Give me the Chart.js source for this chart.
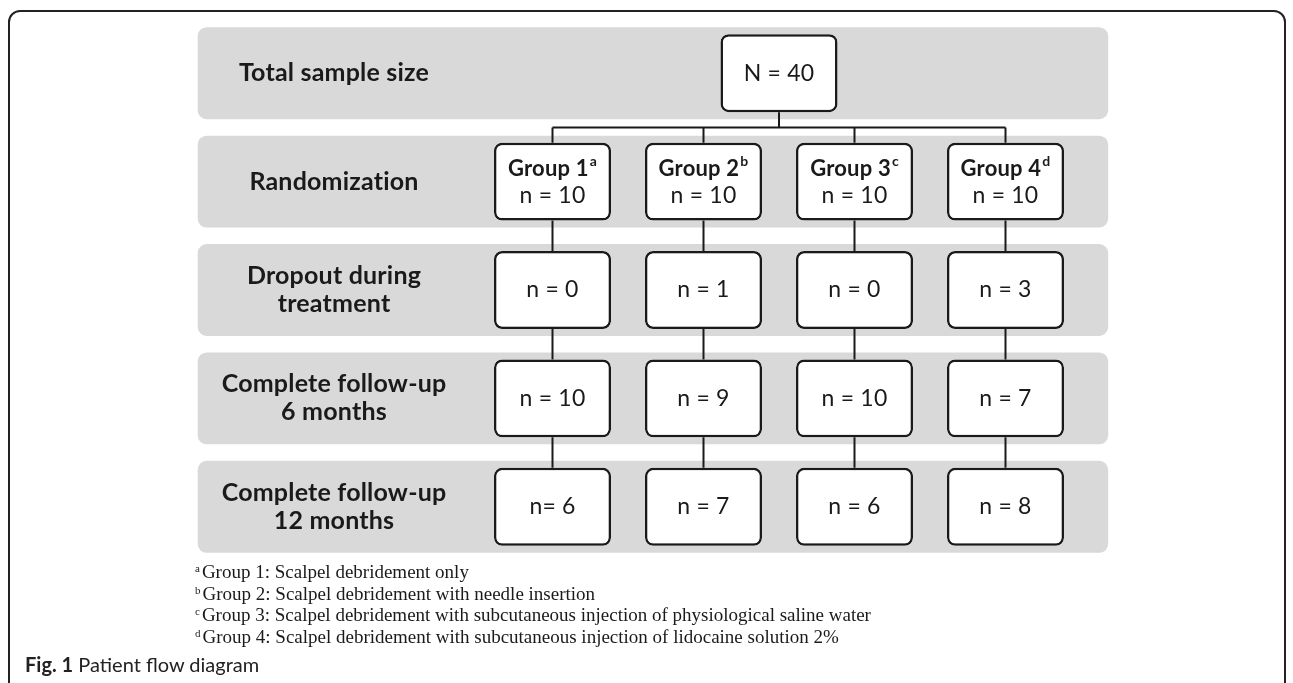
<!DOCTYPE html>
<html>
<head>
<meta charset="utf-8">
<title>Patient flow diagram</title>
<script src="https://cdn.jsdelivr.net/npm/chart.js@4.4.0/dist/chart.umd.min.js"></script>
<style>
  html, body { margin: 0; padding: 0; background: #fff; }
  #wrap { position: relative; width: 1293px; height: 683px; overflow: hidden; }
  #frame {
    position: absolute; left: 8px; top: 10px; width: 1278px; height: 740px;
    border: 2px solid #222; border-radius: 12px; box-sizing: border-box;
  }
  canvas { position: absolute; left: 0; top: 0; }
  #notes {
    position: absolute; left: 195px; top: 561px;
    font: 19px "Liberation Serif", "Times New Roman", serif;
    line-height: 21.7px; color: #1a1a1a; white-space: nowrap;
  }
  #notes sup { font-size: 11px; vertical-align: 6px; line-height: 0; margin-right: 2px; }
  #caption {
    position: absolute; left: 25px; top: 652px;
    font: 20px Lato, "Open Sans", sans-serif; color: #222; white-space: nowrap;
  }
</style>
</head>
<body>
<div id="wrap">
  <div id="frame"></div>
  <canvas id="flow" width="1293" height="683"></canvas>
  <div id="notes"></div>
  <div id="caption"><b>Fig. 1</b> Patient flow diagram</div>
</div>
<script>
// --- data ---
const stages = [
  ['Total sample size'],
  ['Randomization'],
  ['Dropout during', 'treatment'],
  ['Complete follow-up', '6 months'],
  ['Complete follow-up', '12 months']
];
const groups = ['Group 1', 'Group 2', 'Group 3', 'Group 4'];
const groupNotes = ['a', 'b', 'c', 'd'];
const totalN = 40;
const randomized = [10, 10, 10, 10];
const dropout = [0, 1, 0, 3];
const followUp6 = [10, 9, 10, 7];
const followUp12 = [6, 7, 6, 8];
const footnotes = [
  ['a', 'Group 1: Scalpel debridement only'],
  ['b', 'Group 2: Scalpel debridement with needle insertion'],
  ['c', 'Group 3: Scalpel debridement with subcutaneous injection of physiological saline water'],
  ['d', 'Group 4: Scalpel debridement with subcutaneous injection of lidocaine solution 2%']
];

const stageCounts = [null, randomized, dropout, followUp6, followUp12];

// layout in column units (one unit = distance between group columns)
const BOX_HALF = 0.3875;
const BAND_SPAN = [-2.35, 3.68];
const LABEL_X = -1.447;
const TOTAL_COL = (groups.length - 1) / 2;
const INK = '#1a1a1a';

document.getElementById('notes').innerHTML = footnotes
  .map(f => '<div><sup>' + f[0] + '</sup>' + f[1] + '</div>').join('');

function countText(stage, g, v) {
  // the original writes "n= 6" for group 1 at 12 months
  return (stage === 4 && g === 0 ? 'n= ' : 'n = ') + v;
}

const boxStyle = {
  backgroundColor: '#ffffff',
  borderColor: INK,
  borderWidth: 2.5,
  borderRadius: 8,
  borderSkipped: false,
  inflateAmount: 0,
  grouped: false,
  barPercentage: 0.719,
  categoryPercentage: 1,
  order: 1
};

const datasets = [
  {
    label: 'bands',
    data: stages.map(() => BAND_SPAN),
    backgroundColor: '#d9d9d9',
    borderWidth: 0,
    borderRadius: 9,
    borderSkipped: false,
    inflateAmount: 0,
    grouped: false,
    barPercentage: 0.848,
    categoryPercentage: 1,
    order: 2
  },
  Object.assign({
    label: 'Total',
    data: stages.map((_, s) => s === 0 ? [TOTAL_COL - BOX_HALF, TOTAL_COL + BOX_HALF] : null)
  }, boxStyle)
];
groups.forEach((g, gi) => {
  datasets.push(Object.assign({
    label: g,
    data: stages.map((_, s) => s === 0 ? null : [gi - BOX_HALF, gi + BOX_HALF])
  }, boxStyle));
});

function boxGeom(chart, dsIndex, s) {
  const el = chart.getDatasetMeta(dsIndex).data[s];
  const p = el.getProps(['x', 'y', 'base', 'height'], true);
  return { cx: (p.x + p.base) / 2, cy: p.y, top: p.y - p.height / 2, bottom: p.y + p.height / 2 };
}

const flowPlugin = {
  id: 'flow',
  afterDatasetsDraw(chart) {
    const ctx = chart.ctx;
    const xs = chart.scales.x, ys = chart.scales.y;
    ctx.save();

    // connectors
    ctx.strokeStyle = INK;
    ctx.lineWidth = 2;
    ctx.lineCap = 'butt';
    const total = boxGeom(chart, 1, 0);
    const junction = (ys.getPixelForValue(0) + ys.getPixelForValue(1)) / 2;
    const first = boxGeom(chart, 2, 1);
    const last = boxGeom(chart, 1 + groups.length, 1);
    ctx.beginPath();
    ctx.moveTo(total.cx, total.bottom);
    ctx.lineTo(total.cx, junction);
    ctx.moveTo(first.cx, junction);
    ctx.lineTo(last.cx, junction);
    groups.forEach((g, gi) => {
      const b1 = boxGeom(chart, 2 + gi, 1);
      ctx.moveTo(b1.cx, junction);
      ctx.lineTo(b1.cx, b1.top);
      for (let s = 1; s < stages.length - 1; s++) {
        const a = boxGeom(chart, 2 + gi, s);
        const b = boxGeom(chart, 2 + gi, s + 1);
        ctx.moveTo(a.cx, a.bottom);
        ctx.lineTo(b.cx, b.top);
      }
    });
    ctx.stroke();

    // stage labels
    ctx.fillStyle = INK;
    ctx.textAlign = 'center';
    ctx.textBaseline = 'middle';
    if ('letterSpacing' in ctx) ctx.letterSpacing = '0.2px'; // no "ti" ligature
    ctx.font = 'bold 25px Lato, "Open Sans", sans-serif';
    stages.forEach((lines, s) => {
      const cy = ys.getPixelForValue(s);
      const lx = xs.getPixelForValue(LABEL_X);
      lines.forEach((t, i) => {
        ctx.fillText(t, lx, cy + (i - (lines.length - 1) / 2) * 28);
      });
    });

    // total box
    ctx.font = '23px Lato, "Open Sans", sans-serif';
    ctx.fillText('N = ' + totalN, total.cx, total.cy);

    // group boxes
    groups.forEach((g, gi) => {
      const b1 = boxGeom(chart, 2 + gi, 1);
      ctx.textAlign = 'left';
      ctx.font = 'bold 22px Lato, "Open Sans", sans-serif';
      const w1 = ctx.measureText(g).width;
      ctx.font = 'bold 14px Lato, "Open Sans", sans-serif';
      const w2 = ctx.measureText(groupNotes[gi]).width;
      const sx = b1.cx - (w1 + w2 + 1) / 2;
      ctx.font = 'bold 22px Lato, "Open Sans", sans-serif';
      ctx.fillText(g, sx, b1.cy - 13);
      ctx.font = 'bold 14px Lato, "Open Sans", sans-serif';
      ctx.fillText(groupNotes[gi], sx + w1 + 1, b1.cy - 20);
      ctx.textAlign = 'center';
      ctx.font = '23px Lato, "Open Sans", sans-serif';
      ctx.fillText(countText(1, gi, randomized[gi]), b1.cx, b1.cy + 14);

      for (let s = 2; s < stages.length; s++) {
        const b = boxGeom(chart, 2 + gi, s);
        ctx.fillText(countText(s, gi, stageCounts[s][gi]), b.cx, b.cy);
      }
    });
    ctx.restore();
  }
};

new Chart(document.getElementById('flow'), {
  type: 'bar',
  data: { labels: stages, datasets: datasets },
  options: {
    indexAxis: 'y',
    responsive: false,
    animation: false,
    events: [],
    layout: { padding: { left: 0, right: 0, top: 19, bottom: 122 } },
    scales: {
      x: { type: 'linear', min: -3.659, max: 4.904, display: false },
      y: { type: 'category', display: false }
    },
    plugins: {
      legend: { display: false },
      tooltip: { enabled: false }
    }
  },
  plugins: [flowPlugin]
});
</script>
</body>
</html>
